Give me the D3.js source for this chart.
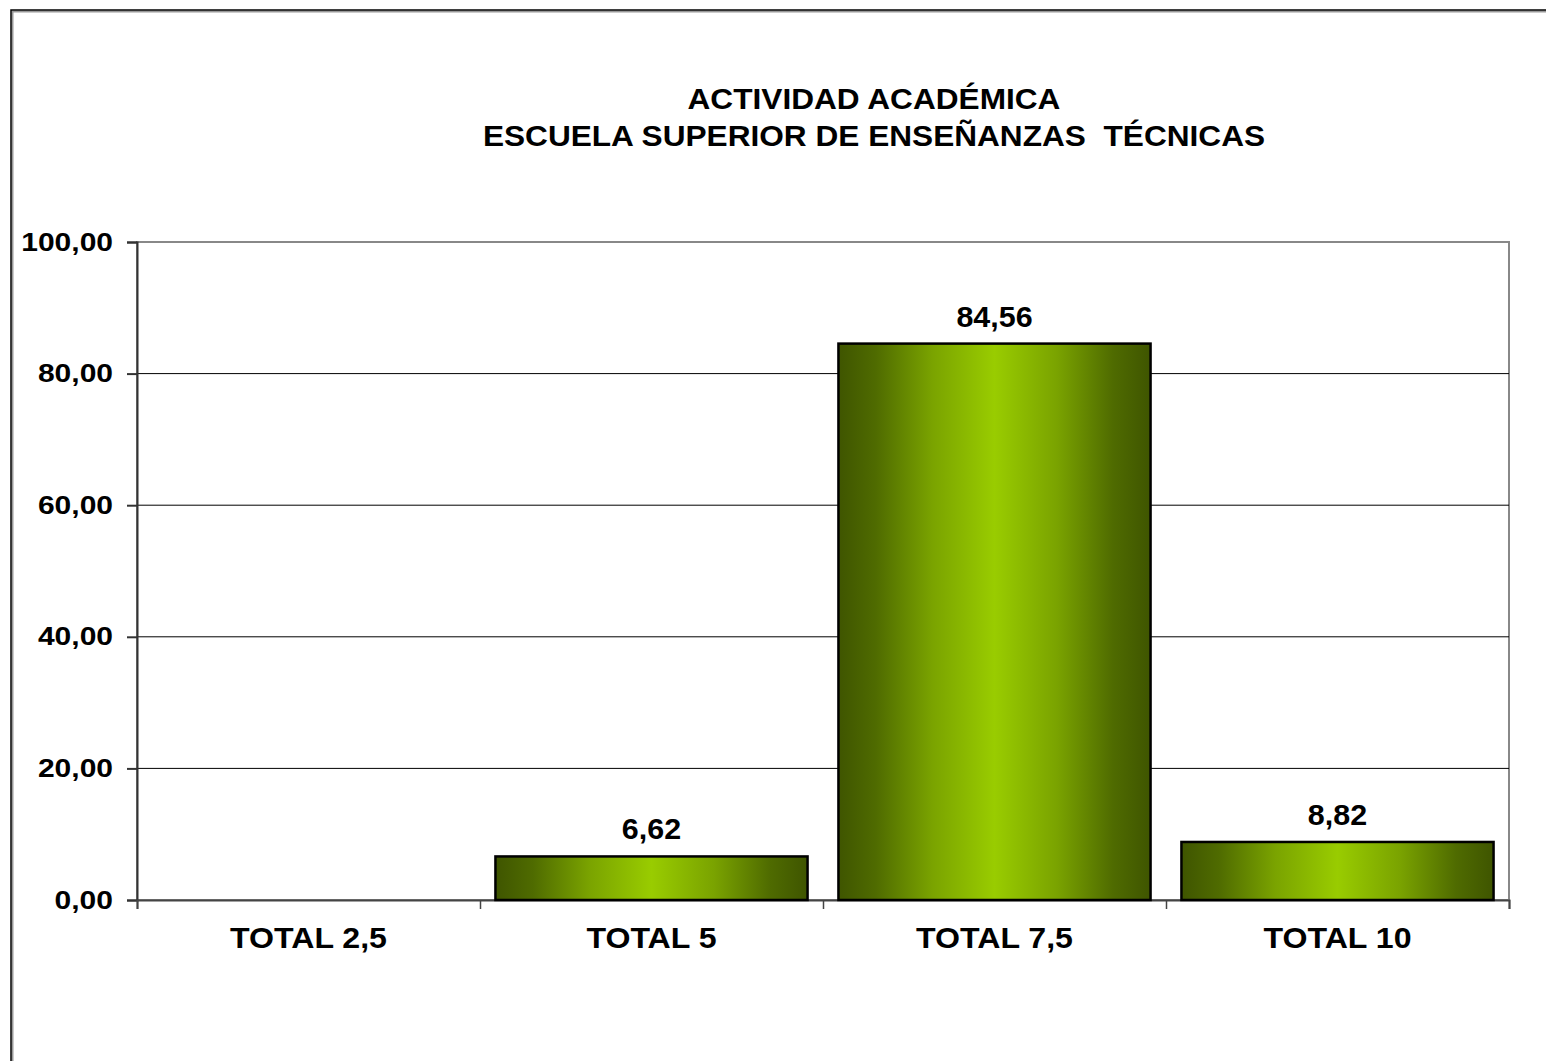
<!DOCTYPE html>
<html>
<head>
<meta charset="utf-8">
<script src="https://cdn.jsdelivr.net/npm/d3@7"></script>
<style>
  body { margin: 0; background: #fff; }
  text { font-family: "Liberation Sans", Arial, sans-serif; font-weight: bold; fill: #000; }
</style>
</head>
<body>
<div id="chart"></div>
<script>
var categories = ["TOTAL 2,5", "TOTAL 5", "TOTAL 7,5", "TOTAL 10"];
var values = [0, 6.62, 84.56, 8.82];
var yTicks = [0, 20, 40, 60, 80, 100];
var titleLines = ["ACTIVIDAD ACADÉMICA", "ESCUELA SUPERIOR DE ENSEÑANZAS  TÉCNICAS"];

var width = 1546, height = 1061;
var margin = {top: 242, right: 37, bottom: 161, left: 137};
var chartW = width - margin.left - margin.right,
  chartH = height - margin.top - margin.bottom;

var fmt = function(v) { return d3.format(".2f")(v).replace(".", ","); };

// the original text is a bit wider than the font gives, so stretch it
function widen(sel, k) {
  sel.each(function() {
    var len = this.getComputedTextLength();
    d3.select(this)
      .attr("textLength", len * k)
      .attr("lengthAdjust", "spacingAndGlyphs");
  });
}

var svg = d3.select("#chart").append("svg")
  .attr("width", width)
  .attr("height", height);

// gradient for the bars: dark edges, bright centre
var grad = svg.append("defs").append("linearGradient")
  .attr("id", "barGrad")
  .attr("x1", "0%").attr("x2", "100%").attr("y1", "0%").attr("y2", "0%");
[[0, "#3f5500"], [0.12, "#4f6b00"], [0.3, "#7aa300"], [0.5, "#99cc00"], [0.7, "#7aa300"], [0.88, "#4f6b00"], [1, "#3f5500"]]
  .forEach(function(s) {
    grad.append("stop").attr("offset", s[0]).attr("stop-color", s[1]);
  });

// outer frame (runs off the right and bottom edge) with a shadow
svg.append("rect")
  .attr("x", 12.5).attr("y", 11.5)
  .attr("width", width + 20).attr("height", height + 20)
  .attr("fill", "none").attr("stroke", "#999").attr("stroke-width", 2);
svg.append("rect")
  .attr("x", 11).attr("y", 10)
  .attr("width", width + 20).attr("height", height + 20)
  .attr("fill", "none").attr("stroke", "#000").attr("stroke-width", 1.5);

var title = svg.selectAll(".title")
  .data(titleLines)
  .enter().append("text")
  .attr("x", 874)
  .attr("y", function(d, i) { return 109 + i * 37; })
  .attr("text-anchor", "middle")
  .style("font-size", "29px")
  .style("white-space", "pre")
  .text(function(d) { return d; });
widen(title, 1.09);

var x = d3.scaleBand()
  .domain(categories)
  .range([0, chartW])
  .paddingInner(0.09)
  .paddingOuter(0.045);

var xTickScale = d3.scaleLinear()
  .domain([0, categories.length])
  .range([0, chartW]);

var y = d3.scaleLinear()
  .domain([0, 100])
  .range([chartH, 0]);

var g = svg.append("g")
  .attr("transform", "translate(" + margin.left + "," + margin.top + ")");

// plot border, gray on top and right
g.append("rect")
  .attr("x", 0).attr("y", 0)
  .attr("width", chartW).attr("height", chartH)
  .attr("fill", "none").attr("stroke", "#888").attr("stroke-width", 2);

// gridlines
g.selectAll(".grid")
  .data(yTicks.filter(function(d) { return d > 0 && d < 100; }))
  .enter().append("line")
  .attr("x1", 0).attr("x2", chartW)
  .attr("y1", function(d) { return y(d); })
  .attr("y2", function(d) { return y(d); })
  .attr("stroke", "#000").attr("stroke-width", 1);

// y axis
var yAxis = d3.axisLeft(y)
  .tickValues(yTicks)
  .tickSize(10)
  .tickPadding(14)
  .tickFormat(fmt);
var yG = g.append("g").call(yAxis);
yG.select(".domain").attr("stroke", "#333").attr("stroke-width", 2);
yG.selectAll(".tick line").attr("stroke", "#333").attr("stroke-width", 2);
yG.selectAll("text")
  .style("font-size", "25px")
  .style("font-family", "'Liberation Sans', Arial, sans-serif")
  .style("font-weight", "bold")
  .attr("fill", "#000");
widen(yG.selectAll("text"), 1.2);

// x axis line and ticks at category boundaries
var xAxis = d3.axisBottom(xTickScale)
  .ticks(categories.length)
  .tickSize(9)
  .tickFormat("");
var xG = g.append("g")
  .attr("transform", "translate(0," + chartH + ")")
  .call(xAxis);
xG.select(".domain").attr("stroke", "#444").attr("stroke-width", 2);
xG.selectAll(".tick line").attr("stroke", "#444").attr("stroke-width", 1.5);

// category labels
var cats = g.selectAll(".cat")
  .data(categories)
  .enter().append("text")
  .attr("x", function(d) { return x(d) + x.bandwidth() / 2; })
  .attr("y", chartH + 48)
  .attr("text-anchor", "middle")
  .style("font-size", "30px")
  .text(function(d) { return d; });
widen(cats, 1.07);

// bars
var data = categories.map(function(c, i) { return {cat: c, value: values[i]}; })
  .filter(function(d) { return d.value > 0; });

g.selectAll(".bar")
  .data(data)
  .enter().append("rect")
  .attr("x", function(d) { return x(d.cat); })
  .attr("y", function(d) { return y(d.value); })
  .attr("width", x.bandwidth())
  .attr("height", function(d) { return chartH - y(d.value); })
  .attr("fill", "url(#barGrad)")
  .attr("stroke", "#000").attr("stroke-width", 2.5);

var lbls = g.selectAll(".lbl")
  .data(data)
  .enter().append("text")
  .attr("x", function(d) { return x(d.cat) + x.bandwidth() / 2; })
  .attr("y", function(d) { return y(d.value) - 17; })
  .attr("text-anchor", "middle")
  .style("font-size", "29px")
  .text(function(d) { return fmt(d.value); });
widen(lbls, 1.05);
</script>
</body>
</html>
